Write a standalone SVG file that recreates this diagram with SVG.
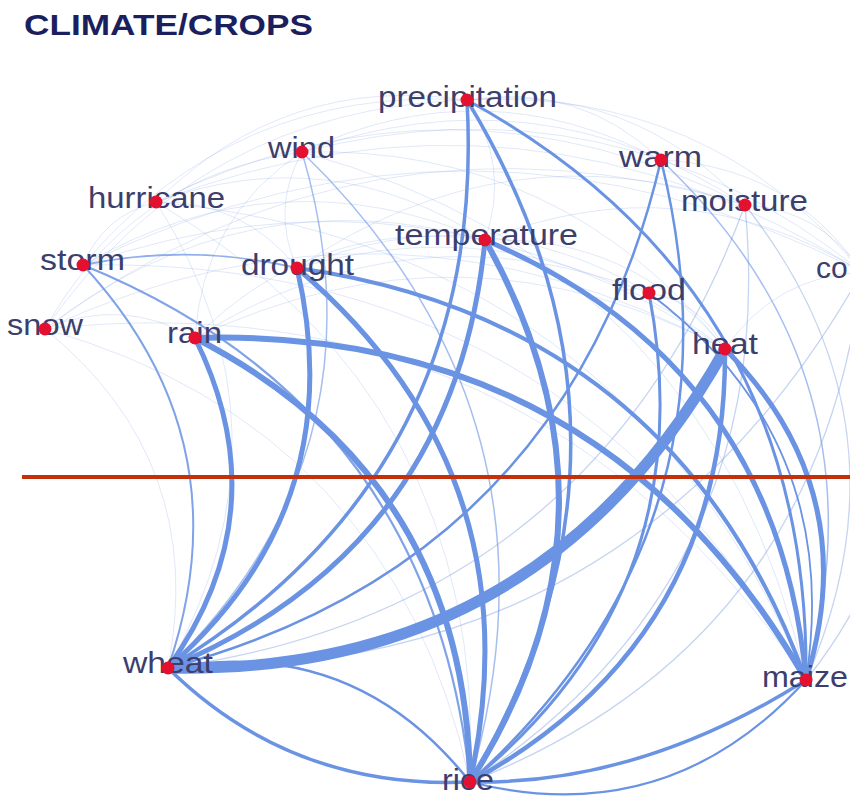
<svg xmlns="http://www.w3.org/2000/svg" width="850" height="809" viewBox="0 0 850 809">
<style>
.e{fill:none;stroke:#6a93e3;stroke-linecap:round}
.f{fill:none;stroke:#7e9fe0;stroke-opacity:.24;stroke-width:1}
.g{fill:none;stroke:#7e9fe0;stroke-opacity:.45;stroke-width:1.3}
.dot{fill:#e3102f}
.lbl{font-family:"Liberation Sans",Arial,sans-serif;font-size:30px;fill:#3c3e6c}
.title{font-family:"Liberation Sans",Arial,sans-serif;font-size:30px;font-weight:bold;fill:#1b1f5e}
</style>
<rect width="850" height="809" fill="#ffffff"/>
<text class="title" x="24" y="35" textLength="289" lengthAdjust="spacingAndGlyphs">CLIMATE/CROPS</text>
<g id="edges">
<g id="faint">
<path class="f" d="M45,329 Q199,109 467,100"/>
<path class="f" d="M45,329 Q243,174.5 485,240"/>
<path class="f" d="M156,202 Q286,73 467,100"/>
<path class="f" d="M156,202 Q330,139 485,240"/>
<path class="f" d="M156,202 Q451,56 745,205"/>
<path class="f" d="M83,265 Q234,86 467,100"/>
<path class="f" d="M83,265 Q278,152 485,240"/>
<path class="f" d="M83,265 Q425,147 725,349"/>
<path class="f" d="M302,152 Q562,145 725,349"/>
<path class="f" d="M302,152 Q537,68 745,205"/>
<path class="f" d="M302,152 Q612,72 862,272"/>
<path class="f" d="M297,268 Q531,201 725,349"/>
<path class="f" d="M297,268 Q479,192 649,293"/>
<path class="f" d="M195,338 Q463,211 725,349"/>
<path class="f" d="M195,338 Q315.5,216.5 485,240"/>
<path class="f" d="M467,100 Q707.5,87 862,272"/>
<path class="f" d="M467,100 Q632,83 745,205"/>
<path class="f" d="M485,240 Q681.5,162 862,272"/>
<path class="f" d="M485,240 Q632,234.5 725,349"/>
<path class="f" d="M661,160 Q789.5,166 862,272"/>
<path class="f" d="M745,205 Q820.5,209.5 862,272"/>
<path class="f" d="M725,349 Q774.5,276.5 862,272"/>
<path class="f" d="M195,338 Q202,218 302,152"/>
<path class="f" d="M83,265 Q103.5,215.5 156,202"/>
<path class="f" d="M45,329 Q122,296 195,338"/>
<path class="f" d="M156,202 Q243,200 297,268"/>
<path class="f" d="M297,268 Q270.5,209 302,152"/>
<path class="f" d="M467,100 Q579,81.5 661,160"/>
<path class="f" d="M467,100 Q511,165.5 485,240"/>
<path class="f" d="M649,293 Q701,302 725,349"/>
<path class="f" d="M45,329 Q129.5,176.5 302,152"/>
<path class="f" d="M45,329 Q364,92 745,205"/>
<path class="f" d="M83,265 Q474,73.5 862,272"/>
<path class="f" d="M156,202 Q526.5,60.5 862,272"/>
<path class="f" d="M302,152 Q483.5,66 661,160"/>
<path class="f" d="M297,268 Q505,124.5 745,205"/>
<path class="f" d="M195,338 Q411,202 649,293"/>
<path class="f" d="M45,329 Q390,169 725,349"/>
<path class="f" d="M168,668 Q208,461.5 45,329"/>
<path class="f" d="M168,668 Q302,431 156,202"/>
<path class="g" d="M168,668 Q595.5,609.6 745,205"/>
<path class="g" d="M168,668 Q634,678 862,272"/>
<path class="f" d="M470,782 Q393.5,428 45,329"/>
<path class="f" d="M470,782 Q487,398 156,202"/>
<path class="g" d="M470,782 Q780.6,576 745,205"/>
<path class="g" d="M470,782 Q819,644.6 862,272"/>
<path class="f" d="M806,680 Q530.5,276 45,329"/>
<path class="f" d="M806,680 Q624,246 156,202"/>
<path class="f" d="M806,680 Q569,255.5 83,265"/>
<path class="f" d="M806,680 Q712,265 302,152"/>
<path class="g" d="M806,680 Q918,424 745,205"/>
<path class="g" d="M806,680 Q956,493 862,272"/>
</g>
<g id="main">
<path class="e" stroke-width="1.5" stroke-opacity=".6" d="M168,668 Q390,450 302,152"/>
<path class="e" stroke-width="1.5" stroke-opacity=".6" d="M470,782 Q575,417 302,152"/>
<path class="e" stroke-width="1.5" stroke-opacity=".6" d="M806,680 Q889.5,376 661,160"/>
<path class="e" stroke-width="1.8" stroke-opacity=".75" d="M83,265 Q190,243 297,268"/>
<path class="e" stroke-width="2" stroke-opacity=".85" d="M168,668 Q246,441 83,265"/>
<path class="e" stroke-width="2.2" stroke-opacity=".85" d="M470,782 Q432,407 83,265"/>
<path class="e" stroke-width="1.8" d="M806,680 Q843.5,439.5 649,293"/>
<path class="e" stroke-width="2.5" d="M168,668 Q567,562 661,160"/>
<path class="e" stroke-width="2.5" d="M470,782 Q752,528 661,160"/>
<path class="e" stroke-width="3" d="M470,782 Q706,591 649,293"/>
<path class="e" stroke-width="3.5" d="M168,668 Q488,474 467,100"/>
<path class="e" stroke-width="3.5" d="M470,782 Q673,440 467,100"/>
<path class="e" stroke-width="3" d="M806,680 Q810.5,288 467,100"/>
<path class="e" stroke-width="4" d="M806,680 Q675,321 297,268"/>
<path class="e" stroke-width="3.5" d="M168,668 Q292,790 470,782"/>
<path class="e" stroke-width="2.5" d="M168,668 Q353,634 470,782"/>
<path class="e" stroke-width="3.5" d="M470,782 Q640,785 806,680"/>
<path class="e" stroke-width="2.2" d="M470,782 Q668,832 806,680"/>
<path class="e" stroke-width="5" d="M168,668 Q280.5,511 195,338"/>
<path class="e" stroke-width="5" d="M168,668 Q352.5,506.7 297,268"/>
<path class="e" stroke-width="5" d="M168,668 Q455,549 485,240"/>
<path class="e" stroke-width="6" d="M470,782 Q466,477 195,338"/>
<path class="e" stroke-width="5" d="M470,782 Q538,473 297,268"/>
<path class="e" stroke-width="6" d="M470,782 Q640,515 485,240"/>
<path class="e" stroke-width="4.5" d="M470,782 Q727,642 725,349"/>
<path class="e" stroke-width="6" d="M806,680 Q603,326 195,338"/>
<path class="e" stroke-width="5" d="M806,680 Q777.5,364 485,240"/>
<path class="e" stroke-width="5" d="M806,680 Q865,490 725,349"/>
<path class="e" stroke-width="11" d="M168,668 Q542,676 725,349"/>
</g>
</g>
<line id="divider" x1="22" y1="477" x2="850" y2="477" stroke="#c4300c" stroke-width="4"/>
<g id="node-precipitation"><text class="lbl" x="378" y="107" textLength="179" lengthAdjust="spacingAndGlyphs">precipitation</text><circle class="dot" cx="467" cy="100" r="6.5"/></g>
<g id="node-wind"><text class="lbl" x="268" y="158" textLength="67" lengthAdjust="spacingAndGlyphs">wind</text><circle class="dot" cx="302" cy="152" r="6.5"/></g>
<g id="node-warm"><text class="lbl" x="619" y="167" textLength="83" lengthAdjust="spacingAndGlyphs">warm</text><circle class="dot" cx="661" cy="160" r="6.5"/></g>
<g id="node-hurricane"><text class="lbl" x="88" y="208" textLength="137" lengthAdjust="spacingAndGlyphs">hurricane</text><circle class="dot" cx="156" cy="202" r="6.5"/></g>
<g id="node-moisture"><text class="lbl" x="681" y="211" textLength="127" lengthAdjust="spacingAndGlyphs">moisture</text><circle class="dot" cx="745" cy="205" r="6.5"/></g>
<g id="node-temperature"><text class="lbl" x="395" y="245" textLength="183" lengthAdjust="spacingAndGlyphs">temperature</text><circle class="dot" cx="485" cy="240" r="6.5"/></g>
<g id="node-storm"><text class="lbl" x="40" y="270" textLength="85" lengthAdjust="spacingAndGlyphs">storm</text><circle class="dot" cx="83" cy="265" r="6.5"/></g>
<g id="node-drought"><text class="lbl" x="241" y="275" textLength="113" lengthAdjust="spacingAndGlyphs">drought</text><circle class="dot" cx="297" cy="268" r="6.5"/></g>
<g id="node-co"><text class="lbl" x="816" y="278">co</text></g>
<g id="node-flood"><text class="lbl" x="612" y="300" textLength="74" lengthAdjust="spacingAndGlyphs">flood</text><circle class="dot" cx="649" cy="293" r="6.5"/></g>
<g id="node-snow"><text class="lbl" x="7" y="335" textLength="76" lengthAdjust="spacingAndGlyphs">snow</text><circle class="dot" cx="45" cy="329" r="6.5"/></g>
<g id="node-rain"><text class="lbl" x="167" y="343" textLength="55" lengthAdjust="spacingAndGlyphs">rain</text><circle class="dot" cx="195" cy="338" r="6.5"/></g>
<g id="node-heat"><text class="lbl" x="692" y="354" textLength="66" lengthAdjust="spacingAndGlyphs">heat</text><circle class="dot" cx="725" cy="349" r="6.5"/></g>
<g id="node-wheat"><text class="lbl" x="123" y="673" textLength="90" lengthAdjust="spacingAndGlyphs">wheat</text><circle class="dot" cx="168" cy="668" r="6.5"/></g>
<g id="node-rice"><text class="lbl" x="442" y="790" textLength="52" lengthAdjust="spacingAndGlyphs">rice</text><circle class="dot" cx="470" cy="782" r="6.5"/></g>
<g id="node-maize"><text class="lbl" x="762" y="687" textLength="86" lengthAdjust="spacingAndGlyphs">maize</text><circle class="dot" cx="806" cy="680" r="6.5"/></g>
</svg>
